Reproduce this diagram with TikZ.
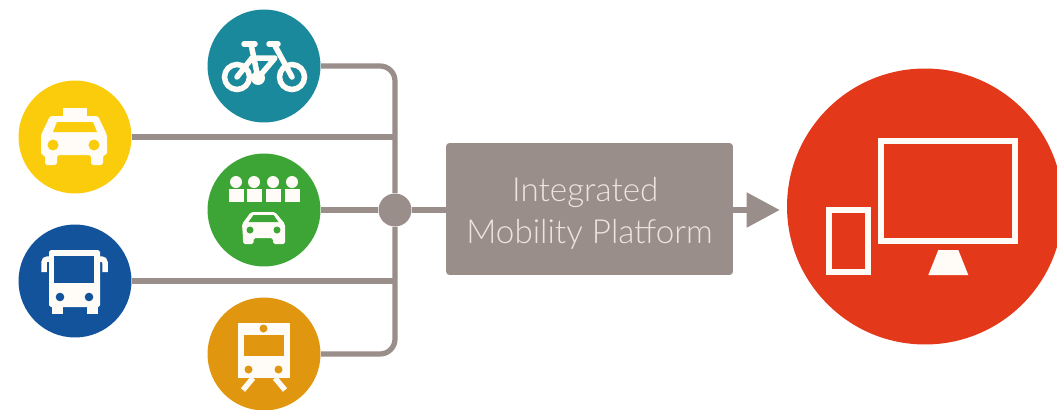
\documentclass[tikz,border=0pt]{standalone}
\usepackage{fontspec}
\usetikzlibrary{arrows.meta}
\newfontfamily\platformfont{Lato Light}
\definecolor{bikeColor}{HTML}{1A899C}
\definecolor{taxiColor}{HTML}{FBCC0B}
\definecolor{shareColor}{HTML}{3DA535}
\definecolor{busColor}{HTML}{12539C}
\definecolor{trainColor}{HTML}{E1960F}
\definecolor{deviceColor}{HTML}{E4381A}
\definecolor{lineColor}{HTML}{9A8E8A}
\definecolor{iconColor}{HTML}{FFFBF6}
\definecolor{labelColor}{HTML}{EDE4E0}

\begin{document}
\begin{tikzpicture}[x = 0.02cm, y = -0.02cm]
	\tikzstyle{modeStyle}=[shape = circle, minimum size = 2.26cm, inner sep = 0pt]
	\tikzstyle{hubStyle}=[shape = circle, minimum size = 0.66cm, inner sep = 0pt, fill = lineColor]
	\tikzstyle{platformStyle}=[shape = rectangle, minimum width = 5.74cm, minimum height = 2.64cm, rounded corners = 2pt, fill = lineColor, text = labelColor, align = center, font = \platformfont\fontsize{18.9}{23.6}\selectfont]
	\tikzstyle{linkStyle}=[draw = lineColor, line width = 0.105cm]
	\tikzstyle{iconStyle}=[fill = iconColor, draw = none]
	\tikzstyle{iconLine}=[draw = iconColor, line width = 0.11cm]
	\useasboundingbox (0,0) rectangle (1057,409);
	\fill[white] (0,0) rectangle (1057,409);

	\node[modeStyle, fill = bikeColor] (bike) at (264,66) {};
	\node[modeStyle, fill = taxiColor] (taxi) at (75,137) {};
	\node[modeStyle, fill = shareColor] (share) at (264,210) {};
	\node[modeStyle, fill = busColor] (bus) at (75,281) {};
	\node[modeStyle, fill = trainColor] (train) at (264,354) {};
	\node[hubStyle] (hub) at (395,210) {};
	\node[platformStyle] (platform) at (589.5,209) {\rule{0pt}{18.5pt}Integrated\hspace*{0.17cm}\\Mobility Platform};
	\node[shape = circle, minimum size = 5.52cm, inner sep = 0pt, fill = deviceColor] (device) at (925,206.5) {};

	\draw[linkStyle, rounded corners = 0.3cm] (bike) -| (hub);
	\draw[linkStyle, rounded corners = 0.3cm] (train) -| (hub);
	\draw[linkStyle] (taxi) -- (taxi -| hub);
	\draw[linkStyle] (bus) -- (bus -| hub);
	\draw[linkStyle] (share) -- (hub);
	\draw[linkStyle] (hub) -- (hub -| platform.west);
	\draw[linkStyle, shorten >= 0.14cm, -{Triangle[length = 0.66cm, width = 0.68cm]}] (hub -| platform.east) -- (hub -| device.west);

	\draw[iconLine] (237,77) circle (12.5);
	\draw[iconLine] (292,77) circle (12.5);
	\draw[iconLine, line cap = round, line join = round] (251,44) -- (258,78) -- (275,58) -- (252,58) -- (237,77);
	\draw[iconLine, line cap = round, line join = round] (274,44) -- (292,77);
	\draw[iconLine, line cap = round] (244,44) -- (255,44);
	\draw[iconLine, line cap = round] (269,44) -- (278,44);
	\fill[iconStyle] (258,78) circle (7);

	\fill[iconStyle] (63,108) rectangle (87,118);
	\fill[iconStyle, rounded corners = 1pt] (50,116) -- (98,116) -- (107,135) -- (107,155) -- (103,155) -- (103,165) -- (91,165) -- (91,155) -- (57,155) -- (57,165) -- (45,165) -- (45,155) -- (41,155) -- (41,135) -- cycle;
	\fill[taxiColor] (57,122) -- (93,122) -- (97,132) -- (53,132) -- cycle;
	\fill[taxiColor] (53,145) circle (5.5);
	\fill[taxiColor] (94,145) circle (5.5);

	\foreach \px in {236,254,273,292} {
		\fill[iconStyle] (\px,182) circle (6);
		\fill[iconStyle] (\px-7.5,189) rectangle (\px+7.5,202);
	}
	\fill[iconStyle, rounded corners = 1pt] (251,212) -- (275,212) -- (285,224) -- (285,238) -- (285,244) -- (273,244) -- (273,238) -- (253.5,238) -- (253.5,244) -- (243,244) -- (243,238) -- (242,224) -- cycle;
	\fill[shareColor] (253.5,215) -- (273.5,215) -- (278.5,222) -- (248.5,222) -- cycle;
	\fill[shareColor] (250,230) circle (3.5);
	\fill[shareColor] (277,230) circle (3.5);

	\fill[iconStyle, rounded corners = 1pt] (49,250) rectangle (100,307);
	\fill[iconStyle] (52,306) rectangle (63,314);
	\fill[iconStyle] (87,306) rectangle (98,314);
	\fill[busColor] (54,256) rectangle (94,283);
	\fill[busColor] (60,297) circle (4.3);
	\fill[busColor] (89,297) circle (4.3);
	\draw[iconLine, rounded corners = 2pt] (50,259) -- (44,259) -- (44,272);
	\draw[iconLine, rounded corners = 2pt] (99,259) -- (105,259) -- (105,272);

	\fill[iconStyle] (237.5,323) rectangle (289.5,378);
	\fill[trainColor] (243.5,335) rectangle (283.5,356);
	\fill[trainColor] (263.5,328.5) circle (4);
	\fill[trainColor] (248.5,369.5) circle (4);
	\fill[trainColor] (278.5,369.5) circle (4);
	\draw[iconLine] (253,378) -- (243,390);
	\draw[iconLine] (275,378) -- (285,390);

	\draw[iconColor, line width = 0.12cm] (881.3,141.3) rectangle (1014.7,241);
	\draw[iconColor, line width = 0.12cm] (829,209.7) rectangle (868,272);
	\fill[iconStyle] (938.3,250) -- (958.3,250) -- (968.3,275) -- (928.3,275) -- cycle;
\end{tikzpicture}
\end{document}
